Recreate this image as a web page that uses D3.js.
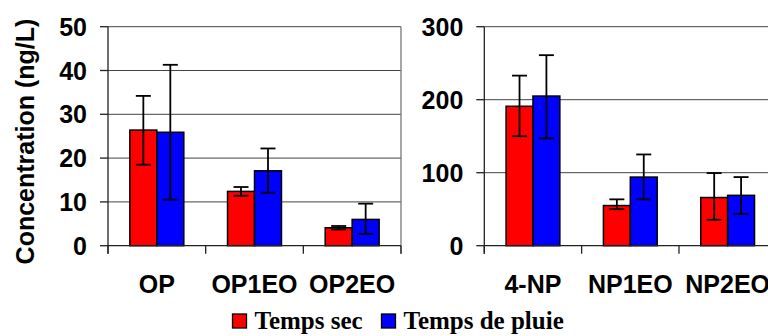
<!DOCTYPE html>
<html>
<head>
<meta charset="utf-8">
<script src="https://cdn.jsdelivr.net/npm/d3@7"></script>
<style>
  body { margin: 0; background: #fff; }
  svg { display: block; }
</style>
</head>
<body>
<div id="chart-area"></div>
<script>
/*
*    main.js
*/

// data
var series = ["Temps sec", "Temps de pluie"];
var colors = ["#ff0000", "#0000ff"];

var opCats = ["OP", "OP1EO", "OP2EO"];
var opSec = [26.4, 12.4, 4.1];
var opSecLo = [18.5, 11.4, 3.7];
var opSecHi = [34.2, 13.4, 4.5];
var opPluie = [25.9, 17.1, 6.0];
var opPluieLo = [10.5, 12.1, 2.7];
var opPluieHi = [41.3, 22.2, 9.6];
var opTicks = [0, 10, 20, 30, 40, 50];

var npCats = ["4-NP", "NP1EO", "NP2EO"];
var npSec = [191, 55, 66];
var npSecLo = [150, 50, 35.5];
var npSecHi = [233, 63.5, 99.5];
var npPluie = [205, 94, 69];
var npPluieLo = [147, 63.5, 43.5];
var npPluieHi = [261, 125, 94];
var npTicks = [0, 100, 200, 300];

var svg = d3.select("#chart-area").append("svg")
    .attr("width", 768)
    .attr("height", 336);

var font = "'Liberation Sans', Arial, sans-serif";
var plotTop = 26.7, plotBottom = 245.7;

function panel(x0, x1, cats, sec, secLo, secHi, pluie, pluieLo, pluieHi, ticks) {
  var x = d3.scaleBand().domain(cats).range([x0, x1]).padding(0);
  var xs = d3.scaleBand().domain(series).range([0, x.bandwidth()])
      .paddingInner(0).paddingOuter(0.81);
  var y = d3.scaleLinear().domain([0, ticks[ticks.length - 1]]).range([plotBottom, plotTop]);

  var g = svg.append("g");

  // gridlines
  g.selectAll(".grid").data(ticks.slice(1)).enter().append("line")
    .attr("x1", x0).attr("x2", x1)
    .attr("y1", function(d) { return y(d); })
    .attr("y2", function(d) { return y(d); })
    .attr("stroke", "#444").attr("stroke-width", 1);

  // right border
  g.append("line")
    .attr("x1", x1).attr("x2", x1).attr("y1", plotTop).attr("y2", plotBottom + 8)
    .attr("stroke", "#777").attr("stroke-width", 1.3);

  // y ticks
  g.selectAll(".ytick").data(ticks).enter().append("line")
    .attr("x1", x0 - 8).attr("x2", x0)
    .attr("y1", function(d) { return y(d); })
    .attr("y2", function(d) { return y(d); })
    .attr("stroke", "#222").attr("stroke-width", 1.3);

  g.selectAll(".ylab").data(ticks).enter().append("text")
    .attr("x", x0 - 21)
    .attr("y", function(d) { return y(d); })
    .attr("dy", "0.36em")
    .attr("text-anchor", "end")
    .attr("font-family", font).attr("font-weight", "bold").attr("font-size", 25)
    .attr("fill", "#000")
    .text(function(d) { return d; });

  // category boundary ticks
  var bounds = cats.map(function(c) { return x(c); }).concat([x1]);
  g.selectAll(".xtick").data(bounds).enter().append("line")
    .attr("x1", function(d) { return d; }).attr("x2", function(d) { return d; })
    .attr("y1", plotBottom).attr("y2", plotBottom + 8)
    .attr("stroke", "#222").attr("stroke-width", 1.3);

  // bars
  var rows = cats.map(function(c, i) {
    return [
      { cat: c, s: series[0], v: sec[i], lo: secLo[i], hi: secHi[i], c: colors[0] },
      { cat: c, s: series[1], v: pluie[i], lo: pluieLo[i], hi: pluieHi[i], c: colors[1] }
    ];
  });
  var flat = [].concat.apply([], rows);

  g.selectAll(".bar").data(flat).enter().append("rect")
    .attr("x", function(d) { return x(d.cat) + xs(d.s); })
    .attr("y", function(d) { return y(d.v); })
    .attr("width", xs.bandwidth())
    .attr("height", function(d) { return y(0) - y(d.v); })
    .attr("fill", function(d) { return d.c; })
    .attr("stroke", "#000").attr("stroke-width", 1.5);

  // error bars
  var cx = function(d) { return x(d.cat) + xs(d.s) + xs.bandwidth() / 2; };
  g.selectAll(".err").data(flat).enter().append("line")
    .attr("x1", cx).attr("x2", cx)
    .attr("y1", function(d) { return y(d.lo); })
    .attr("y2", function(d) { return y(d.hi); })
    .attr("stroke", "#000").attr("stroke-width", 1.8);
  ["lo", "hi"].forEach(function(k) {
    g.selectAll(".cap" + k).data(flat).enter().append("line")
      .attr("x1", function(d) { return cx(d) - 7.5; })
      .attr("x2", function(d) { return cx(d) + 7.5; })
      .attr("y1", function(d) { return y(d[k]); })
      .attr("y2", function(d) { return y(d[k]); })
      .attr("stroke", "#000").attr("stroke-width", 1.8);
  });

  // axes
  g.append("line")
    .attr("x1", x0).attr("x2", x0).attr("y1", plotTop).attr("y2", plotBottom + 8)
    .attr("stroke", "#222").attr("stroke-width", 1.3);
  g.append("line")
    .attr("x1", x0).attr("x2", x1).attr("y1", plotBottom).attr("y2", plotBottom)
    .attr("stroke", "#222").attr("stroke-width", 1.3);

  // category labels
  g.selectAll(".xlab").data(cats).enter().append("text")
    .attr("x", function(d) { return x(d) + x.bandwidth() / 2; })
    .attr("y", 293.3)
    .attr("text-anchor", "middle")
    .attr("font-family", font).attr("font-weight", "bold").attr("font-size", 25)
    .attr("fill", "#000")
    .text(function(d) { return d; });
}

panel(108, 401, opCats, opSec, opSecLo, opSecHi, opPluie, opPluieLo, opPluieHi, opTicks);
panel(484.3, 776.3, npCats, npSec, npSecLo, npSecHi, npPluie, npPluieLo, npPluieHi, npTicks);

// y axis title
svg.append("text")
  .attr("transform", "translate(34,141.5) rotate(-90)")
  .attr("text-anchor", "middle")
  .attr("font-family", font).attr("font-weight", "bold").attr("font-size", 25)
  .attr("fill", "#000")
  .text("Concentration (ng/L)");

// legend
var legX = [232.5, 381.5];
var legend = svg.selectAll(".leg").data(series).enter().append("g")
  .attr("transform", function(d, i) { return "translate(" + legX[i] + ",314)"; });
legend.append("rect")
  .attr("width", 14).attr("height", 14)
  .attr("fill", function(d, i) { return colors[i]; })
  .attr("stroke", "#000").attr("stroke-width", 1.3);
legend.append("text")
  .attr("x", 22).attr("y", 14.7)
  .attr("font-family", "'Liberation Serif', 'Times New Roman', serif")
  .attr("font-weight", "bold").attr("font-size", 25)
  .attr("fill", "#000")
  .text(function(d) { return d; });
</script>
</body>
</html>
